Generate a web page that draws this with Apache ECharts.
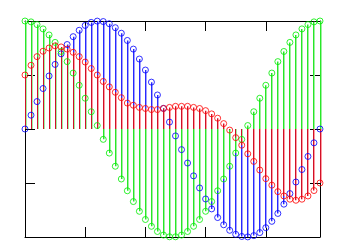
<!DOCTYPE html>
<html>
<head>
<meta charset="utf-8">
<script src="https://cdn.jsdelivr.net/npm/echarts@6/dist/echarts.min.js"></script>
<style>html,body{margin:0;padding:0;background:#fff;}#c{width:348px;height:248px;}</style>
</head>
<body>
<div id="c"></div>
<script>
var samples = [0,1,2,3,4,5,6,7,8,9,10,11,12,13,14,15,16,17,18,19,20,21,22,23,24,25,26,27,28,29,30,31,32,33,34,35,36,37,38,39,40,41,42,43,44,45,46,47,48,49];
var greenValues = [1.000,0.992,0.967,0.927,0.871,0.802,0.718,0.624,0.518,0.405,0.285,0.160,0.032,-0.096,-0.223,-0.345,-0.463,-0.572,-0.672,-0.762,-0.838,-0.901,-0.949,-0.982,-0.998,-0.998,-0.982,-0.949,-0.901,-0.838,-0.762,-0.672,-0.572,-0.463,-0.345,-0.223,-0.096,0.032,0.160,0.285,0.405,0.518,0.624,0.718,0.802,0.871,0.927,0.967,0.992,1.000];
var blueValues = [0.000,0.128,0.254,0.375,0.491,0.598,0.696,0.782,0.855,0.914,0.959,0.987,0.999,0.995,0.975,0.938,0.887,0.820,0.740,0.648,0.546,0.434,0.315,0.191,0.064,-0.064,-0.191,-0.315,-0.434,-0.546,-0.648,-0.740,-0.820,-0.887,-0.938,-0.975,-0.995,-0.999,-0.987,-0.959,-0.914,-0.855,-0.782,-0.696,-0.598,-0.491,-0.375,-0.254,-0.128,0.000];
var redValues = [0.50,0.59,0.67,0.72,0.75,0.77,0.76,0.74,0.71,0.67,0.62,0.56,0.50,0.44,0.39,0.34,0.29,0.24,0.22,0.20,0.19,0.18,0.18,0.19,0.20,0.21,0.21,0.21,0.20,0.19,0.17,0.14,0.10,0.05,-0.01,-0.08,-0.15,-0.23,-0.30,-0.38,-0.46,-0.52,-0.58,-0.62,-0.65,-0.66,-0.65,-0.62,-0.57,-0.50];

function pairs(vals){ return samples.map(function(x,i){ return [x, vals[i]]; }); }

// stem drawn as a 1px crisp column; offset selects the pixel column next to the sample position
function stemSeries(vals, color, offset){
  return {
    type:'custom',
    data: pairs(vals),
    silent:true,
    renderItem: function(params, api){
      var p0 = api.coord([api.value(0), 0]);
      var p1 = api.coord([api.value(0), api.value(1)]);
      var x = Math.floor(p0[0]) + offset;
      var top = Math.min(p0[1], p1[1]);
      var h = Math.abs(p1[1] - p0[1]);
      return {type:'rect', shape:{x:x, y:top, width:1, height:h}, style:{fill:color}};
    }
  };
}
function markSeries(vals, color){
  return {
    type:'scatter',
    data: pairs(vals),
    symbol:'circle',
    symbolSize:6,
    clip:false,
    silent:true,
    itemStyle:{color:'rgba(0,0,0,0)', borderColor:color, borderWidth:1}
  };
}

var axisCommon = {
  type:'value', min:0, max:49, interval:10,
  axisLine:{show:true, onZero:false, lineStyle:{color:'#000', width:1}},
  axisTick:{show:true, inside:true, length:10, lineStyle:{color:'#000', width:1}},
  axisLabel:{show:false}, splitLine:{show:false}
};
var yCommon = {
  type:'value', min:-1, max:1, interval:0.5,
  axisLine:{show:true, onZero:false, lineStyle:{color:'#000', width:1}},
  axisTick:{show:true, inside:true, length:10, lineStyle:{color:'#000', width:1}},
  axisLabel:{show:false}, splitLine:{show:false}
};

var chart = echarts.init(document.getElementById('c'));
chart.setOption({
  animation:false,
  backgroundColor:'#fff',
  grid:{left:25, right:28, top:21, bottom:11},
  xAxis:[Object.assign({position:'bottom'}, axisCommon), Object.assign({position:'top'}, axisCommon)],
  yAxis:[Object.assign({position:'left'}, yCommon), Object.assign({position:'right'}, yCommon)],
  series:[
    stemSeries(blueValues, '#a0a0ff', 1),
    stemSeries(redValues, '#ff9aa0', 1),
    stemSeries(greenValues, '#9ef09e', 1),
    stemSeries(blueValues, '#2828ff', 0),
    stemSeries(greenValues, '#28e828', 0),
    stemSeries(redValues, '#d01028', 0),
    markSeries(blueValues, '#0000ff'),
    markSeries(greenValues, '#00ee00'),
    markSeries(redValues, '#ff0000')
  ]
});
</script>
</body>
</html>
